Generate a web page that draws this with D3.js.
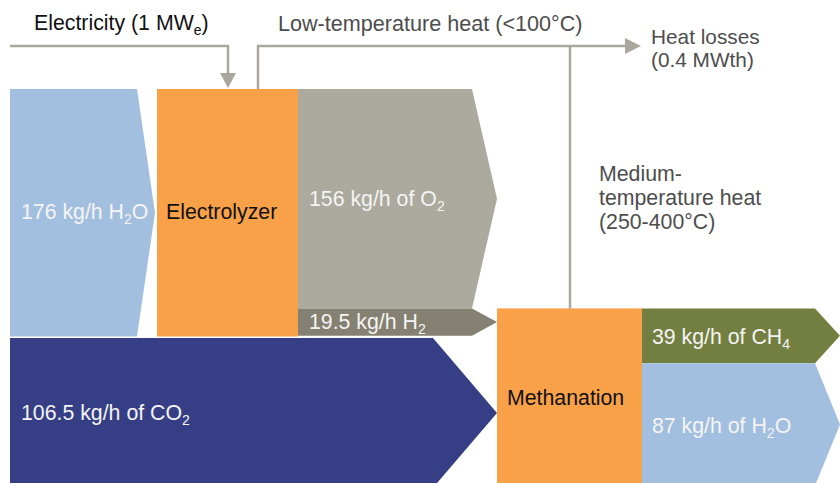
<!DOCTYPE html>
<html>
<head>
<meta charset="utf-8">
<script src="https://cdn.jsdelivr.net/npm/d3@7"></script>
<style>
  html, body { margin: 0; padding: 0; background: #fff; }
  svg { display: block; font-family: "Liberation Sans", Arial, sans-serif; }
</style>
</head>
<body>
<svg id="chart" width="840" height="483"></svg>
<script>
// ---- data ----
const flowIds      = ["h2oIn", "o2", "h2", "co2", "ch4", "h2oOut"];
const flowValues   = [176, 156, 19.5, 106.5, 39, 87];           // kg/h
const flowLabel    = ["176 kg/h H", "156 kg/h of O", "19.5 kg/h H", "106.5 kg/h of CO", "39 kg/h of CH", "87 kg/h of H"];
const flowSub      = ["2", "2", "2", "2", "4", "2"];
const flowTail     = ["O", "", "", "", "", "O"];
const nodeNames    = ["Electrolyzer", "Methanation"];
const energyLabels = ["Electricity (1 MW", "Low-temperature heat (<100°C)"];
const heatLossLines = ["Heat losses", "(0.4 MWth)"];
const mediumHeatLines = ["Medium-", "temperature heat", "(250-400°C)"];

// ---- layout (styles/positions) ----
const W = 840, H = 483;
const colors = {
  h2oIn: "#a3bfdf", o2: "#aca99f", h2: "#858172", co2: "#363f86",
  ch4: "#737f41", h2oOut: "#a3bfdf", node: "#f9a148", line: "#aaa79e"
};
const svg = d3.select("#chart");
svg.append("rect").attr("width", W).attr("height", H).attr("fill", "#fff");

// vertical value scale (kg/h -> px)
const v = d3.scaleLinear().domain([0, 176]).range([0, 247.5]);
const val = Object.fromEntries(flowIds.map((id, i) => [id, flowValues[i]]));

const top0 = 89;
const elecTop = top0, elecBot = top0 + v(val.h2oIn);
const o2Top = top0, o2Bot = o2Top + v(val.o2);
const h2Top = o2Bot, h2Bot = h2Top + v(val.h2);
const co2Top = elecBot + 1.5, co2Bot = co2Top + v(val.co2);
const methTop = h2Top, methBot = methTop + v(val.ch4 + val.h2oOut);
const ch4Top = methTop, ch4Bot = ch4Top + v(val.ch4);
const outTop = ch4Bot, outBot = outTop + v(val.h2oOut);

const geom = {
  h2oIn:  { x0: 10,  xb: 137, xt: 155, y0: top0,  y1: elecBot },
  o2:     { x0: 298, xb: 472, xt: 497, y0: o2Top, y1: o2Bot },
  h2:     { x0: 298, xb: 472, xt: 497, y0: h2Top, y1: h2Bot },
  co2:    { x0: 10,  xb: 433, xt: 497, y0: co2Top, y1: co2Bot },
  ch4:    { x0: 642, xb: 815, xt: 840, y0: ch4Top, y1: ch4Bot },
  h2oOut: { x0: 642, xb: 815, xt: 840, y0: outTop, y1: outBot }
};
const nodes = [
  { name: nodeNames[0], x0: 157, x1: 298, y0: elecTop, y1: elecBot },
  { name: nodeNames[1], x0: 497, x1: 642, y0: methTop, y1: methBot }
];

const line = d3.line();
function arrowPts(g) {
  const ym = (g.y0 + g.y1) / 2;
  return [[g.x0, g.y0], [g.xb, g.y0], [g.xt, ym], [g.xb, g.y1], [g.x0, g.y1]];
}

// flows
svg.append("g").selectAll("path").data(flowIds).join("path")
  .attr("d", id => line(arrowPts(geom[id])) + "Z")
  .attr("fill", id => colors[id]);

// nodes
svg.append("g").selectAll("rect").data(nodes).join("rect")
  .attr("x", d => d.x0).attr("y", d => d.y0)
  .attr("width", d => d.x1 - d.x0).attr("height", d => d.y1 - d.y0)
  .attr("fill", colors.node);

// energy lines
const lg = svg.append("g").attr("fill", "none").attr("stroke", colors.line).attr("stroke-width", 2.5);
lg.append("path").attr("d", line([[10, 46], [228, 46], [228, 75]]));
lg.append("path").attr("d", line([[258, elecTop], [258, 46], [627, 46]]));
lg.append("path").attr("d", line([[570, 46], [570, methTop]]));
svg.append("path").attr("d", line([[220, 73], [236, 73], [228, 88]]) + "Z").attr("fill", colors.line);
svg.append("path").attr("d", line([[625, 38], [625, 54], [641, 46]]) + "Z").attr("fill", colors.line);

// text helper with subscript
function label(x, y, main, sub, tail, fill, size) {
  const t = svg.append("text").attr("x", x).attr("y", y)
    .attr("fill", fill).attr("font-size", size);
  t.append("tspan").text(main);
  if (sub) {
    t.append("tspan").attr("font-size", size * 0.66).attr("dy", 5).text(sub);
    if (tail) t.append("tspan").attr("dy", -5).text(tail);
  }
  return t;
}
// multi-line text block (one text element)
function block(x, y, lines, lh, fill, size) {
  const t = svg.append("text").attr("x", x).attr("y", y)
    .attr("fill", fill).attr("font-size", size);
  lines.forEach((s, i) => t.append("tspan").attr("x", x).attr("dy", i ? lh : 0).text(s));
  return t;
}

const fs = 21.3;
const white = "#f4f4f4";
const labelPos = {
  h2oIn: [21, 219], o2: [309, 206], h2: [309, 329], co2: [21, 420], ch4: [652, 344], h2oOut: [652, 433]
};
flowIds.forEach((id, i) => {
  label(labelPos[id][0], labelPos[id][1], flowLabel[i], flowSub[i], flowTail[i], white, fs);
});
label(166, 219, nodes[0].name, "", "", "#111", fs);
label(507, 405, nodes[1].name, "", "", "#111", fs);

label(34, 30, energyLabels[0], "e", ")", "#111", fs);
label(278, 31, energyLabels[1], "", "", "#4d4d4d", 21.6);
block(651, 43.5, heatLossLines, 23.5, "#4d4d4d", 20.8);
block(599, 181, mediumHeatLines, 24, "#4d4d4d", fs);
</script>
</body>
</html>
